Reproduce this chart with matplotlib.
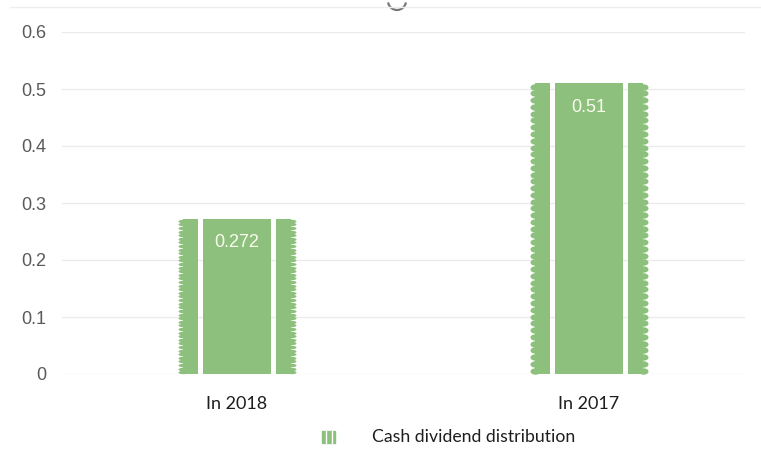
import matplotlib
matplotlib.use('Agg')
import matplotlib.pyplot as plt
import numpy as np
from matplotlib.patches import Arc, Rectangle
from matplotlib.lines import Line2D
from matplotlib.path import Path
from matplotlib.transforms import Affine2D

## data
categories = ['In 2018', 'In 2017']
dividend = [0.272, 0.51]
value_labels = ['0.272', '0.51']
series_name = 'Cash dividend distribution'
y_ticks = [0, 0.1, 0.2, 0.3, 0.4, 0.5, 0.6]

green = '#8cc07c'
grid_col = '#ebebeb'

fig = plt.figure(figsize=(7.61, 4.59), dpi=100)
ax = fig.add_axes([62 / 761, 85 / 459, 683 / 761, (374 - 32) / 459])

px_y = 570.0   # pixels per data unit (y)
px_x = 352.0   # pixels per data unit (x)

x = np.arange(len(categories))
main_w = 68 / px_x
gap = 5 / px_x
strip_w = 15 / px_x
tooth = 5.0    # px
off = main_w / 2 + gap + strip_w / 2

# main bar + two side strips, white gaps come from the background
ax.bar(x, dividend, width=main_w, color=green, zorder=2)
ax.bar(x - off, dividend, width=strip_w, color=green, zorder=2)
ax.bar(x + off, dividend, width=strip_w, color=green, zorder=2)

# scalloped outer edges: stretched picture, ~43 teeth per bar
n_teeth = 43
for i, v in zip(x, dividend):
    period = v * px_y / n_teeth
    ell = Affine2D().scale(tooth, period / 2 * 0.95).transform_path(Path.unit_circle())
    msize = max(2 * tooth, period) / 1.389
    ys = (np.arange(n_teeth) + 0.5) * v / n_teeth
    for side in (-1, 1):
        xe = i + side * (off + strip_w / 2)
        ax.plot(np.full(n_teeth, xe), ys, linestyle='none', marker=ell,
                markersize=msize, color=green, markeredgewidth=0, zorder=2)

for i, v, lab in zip(x, dividend, value_labels):
    ax.text(i, v - 0.042, lab, ha='center', va='center', color='#fbfbee',
            fontsize=13, family='Liberation Sans', zorder=4)

ax.set_xlim(-0.497, 1.443)
ax.set_ylim(0, 0.6)
ax.set_yticks(y_ticks)
ax.set_yticklabels([('%g' % t) for t in y_ticks], family='Liberation Sans',
                   fontsize=13, color='#5a5a5a')
ax.set_xticks(x)
ax.set_xticklabels(categories, family='Lato', fontsize=13, color='#1e1e1e')
ax.tick_params(axis='both', length=0)
ax.tick_params(axis='y', pad=11.5)
ax.tick_params(axis='x', pad=16)
ax.yaxis.grid(True, color=grid_col, lw=1)
ax.set_axisbelow(True)
for s in ax.spines.values():
    s.set_visible(False)

# top border line and loading spinner arc
fig.add_artist(Line2D([10 / 761, 1], [1 - 7 / 459, 1 - 7 / 459],
                      transform=fig.transFigure, color='#eeeeee', lw=1))
fig.add_artist(Arc((397 / 761, 1 - 1 / 459), 18 / 761, 18 / 459,
                   theta1=195, theta2=345, transform=fig.transFigure,
                   color='#777777', lw=1.6))

# legend icon + text
ly = 1 - 437 / 459
fig.add_artist(Rectangle((322 / 761, ly - 6 / 459), 13 / 761, 12 / 459,
                         transform=fig.transFigure, color=green))
fig.add_artist(Line2D([325.5 / 761] * 2, [ly - 6 / 459, ly + 6 / 459],
                      transform=fig.transFigure, color='white', lw=1))
fig.add_artist(Line2D([331.5 / 761] * 2, [ly - 6 / 459, ly + 6 / 459],
                      transform=fig.transFigure, color='white', lw=1))
fig.text(372 / 761, ly, series_name, family='Lato', fontsize=12.7,
         color='#1e1e1e', va='center', ha='left')

fig.savefig('out.png', dpi=100)
